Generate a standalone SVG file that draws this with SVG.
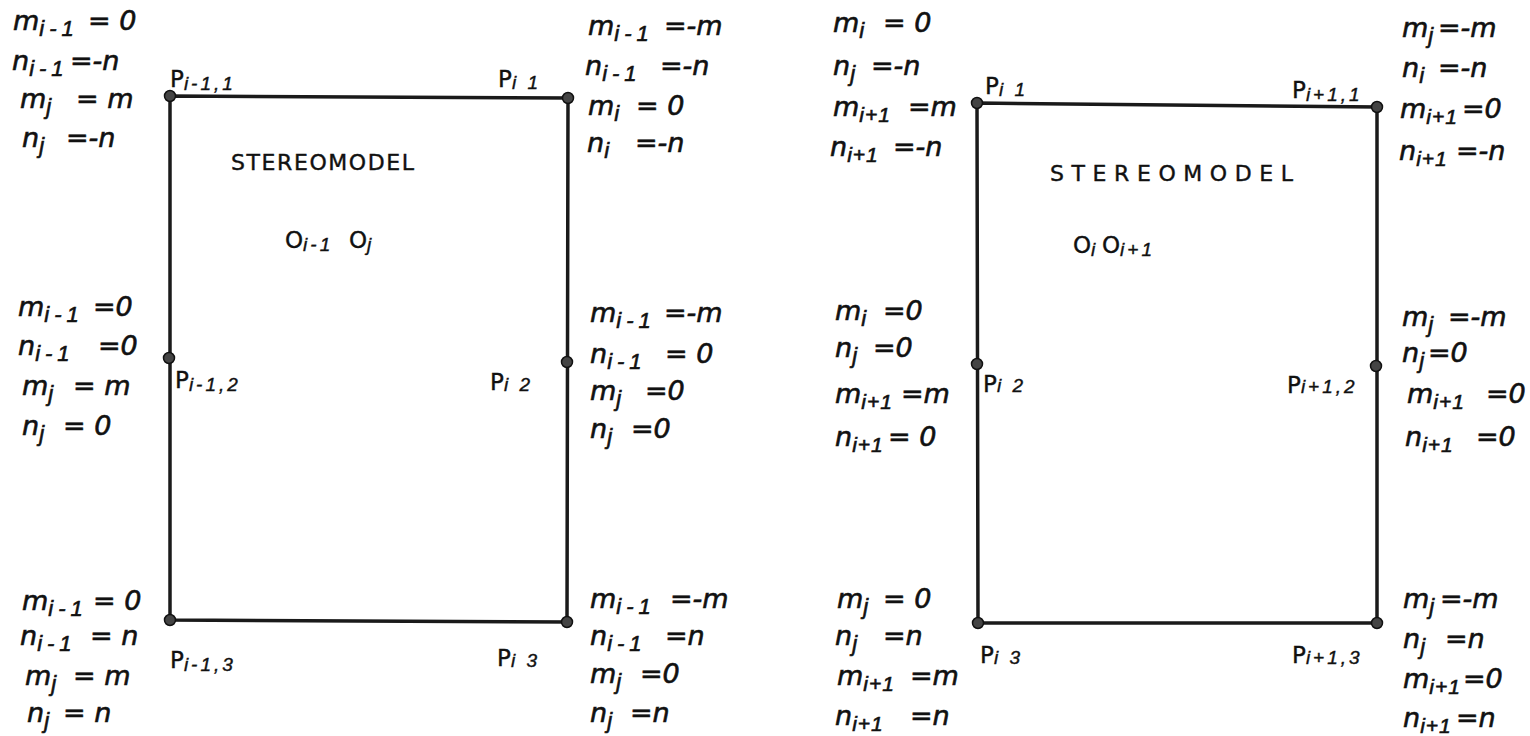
<svg xmlns="http://www.w3.org/2000/svg" width="1530" height="736" viewBox="0 0 1530 736">
<style>
.eq{font-family:"DejaVu Sans",sans-serif;font-style:italic;font-size:27px;fill:#111;stroke:#111;stroke-width:0.6}
.s{font-family:"Liberation Sans",sans-serif;font-size:22px;letter-spacing:5px}
.s2{font-family:"Liberation Sans",sans-serif;font-size:21px;letter-spacing:1px}
.pl{font-family:"DejaVu Sans",sans-serif;font-size:23px;fill:#111;stroke:#111;stroke-width:0.4}
.ps{font-family:"Liberation Sans",sans-serif;font-style:italic;font-size:19px;letter-spacing:3px}
.ti{font-family:"DejaVu Sans",sans-serif;font-size:22px;fill:#111;stroke:#111;stroke-width:0.4}
.edge{stroke:#1a1a1a;stroke-width:3.5;fill:none;stroke-linecap:round}
.dot{fill:#444;stroke:#111;stroke-width:1.5}
</style>
<rect width="1530" height="736" fill="#fff"/>
<g id="connectors">
<path class="edge" d="M170 96 L568 98 L567 622 L170 620 Z"/>
<path class="edge" d="M977 103 L1377 107 L1377 623 L978 623 Z"/>
</g>
<g id="model-left">
<text class="ti" x="231" y="170" textLength="183" lengthAdjust="spacing">STEREOMODEL</text>
<text class="pl" x="285" y="248">O<tspan class="ps" dy="3">i-1</tspan><tspan x="349" dy="-3">O</tspan><tspan class="ps" dy="3">j</tspan></text>
</g>
<g id="model-right">
<text class="ti" x="1050" y="181" textLength="243" lengthAdjust="spacing">STEREOMODEL</text>
<text class="pl" x="1073" y="253">O<tspan class="ps" dy="3">i</tspan><tspan x="1102" dy="-3">O</tspan><tspan class="ps" dy="3">i+1</tspan></text>
</g>
<g id="P_im1_1">
<circle class="dot" cx="170" cy="96" r="5.5"/>
<text class="pl" x="170" y="87">P<tspan class="ps" dy="3">i-1,1</tspan></text>
<text class="eq" x="13" y="30">m<tspan class="s" dy="6">i-1</tspan><tspan x="88" dy="-6">= 0</tspan></text>
<text class="eq" x="12" y="70">n<tspan class="s" dy="6">i-1</tspan><tspan x="70" dy="-6">=-n</tspan></text>
<text class="eq" x="20" y="108">m<tspan class="s" dy="6">j</tspan><tspan x="76" dy="-6">= m</tspan></text>
<text class="eq" x="22" y="147">n<tspan class="s" dy="6">j</tspan><tspan x="66" dy="-6">=-n</tspan></text>
</g>
<g id="P_i_1">
<circle class="dot" cx="568" cy="98" r="5.5"/>
<text class="pl" x="498" y="87">P<tspan class="ps" dy="2">i 1</tspan></text>
<text class="eq" x="588" y="35">m<tspan class="s" dy="6">i-1</tspan><tspan x="664" dy="-6">=-m</tspan></text>
<text class="eq" x="585" y="75">n<tspan class="s" dy="6">i-1</tspan><tspan x="660" dy="-6">=-n</tspan></text>
<text class="eq" x="588" y="115">m<tspan class="s" dy="6">i</tspan><tspan x="636" dy="-6">= 0</tspan></text>
<text class="eq" x="587" y="152">n<tspan class="s" dy="6">i</tspan><tspan x="635" dy="-6">=-n</tspan></text>
</g>
<g id="P_im1_2">
<circle class="dot" cx="169" cy="358" r="5.5"/>
<text class="pl" x="175" y="388">P<tspan class="ps" dy="3">i-1,2</tspan></text>
<text class="eq" x="18" y="316">m<tspan class="s" dy="6">i-1</tspan><tspan x="93" dy="-6">=0</tspan></text>
<text class="eq" x="18" y="355">n<tspan class="s" dy="6">i-1</tspan><tspan x="98" dy="-6">=0</tspan></text>
<text class="eq" x="22" y="395">m<tspan class="s" dy="6">j</tspan><tspan x="73" dy="-6">= m</tspan></text>
<text class="eq" x="22" y="435">n<tspan class="s" dy="6">j</tspan><tspan x="63" dy="-6">= 0</tspan></text>
</g>
<g id="P_i_2">
<circle class="dot" cx="567" cy="362" r="5.5"/>
<text class="pl" x="490" y="390">P<tspan class="ps" dy="1">i 2</tspan></text>
<text class="eq" x="590" y="322">m<tspan class="s" dy="6">i-1</tspan><tspan x="664" dy="-6">=-m</tspan></text>
<text class="eq" x="590" y="363">n<tspan class="s" dy="6">i-1</tspan><tspan x="665" dy="-6">= 0</tspan></text>
<text class="eq" x="590" y="400">m<tspan class="s" dy="6">j</tspan><tspan x="645" dy="-6">=0</tspan></text>
<text class="eq" x="590" y="438">n<tspan class="s" dy="6">j</tspan><tspan x="631" dy="-6">=0</tspan></text>
</g>
<g id="P_im1_3">
<circle class="dot" cx="170" cy="620" r="5.5"/>
<text class="pl" x="170" y="668">P<tspan class="ps" dy="3">i-1,3</tspan></text>
<text class="eq" x="22" y="610">m<tspan class="s" dy="6">i-1</tspan><tspan x="93" dy="-6">= 0</tspan></text>
<text class="eq" x="20" y="645">n<tspan class="s" dy="6">i-1</tspan><tspan x="90" dy="-6">= n</tspan></text>
<text class="eq" x="25" y="685">m<tspan class="s" dy="6">j</tspan><tspan x="73" dy="-6">= m</tspan></text>
<text class="eq" x="27" y="722">n<tspan class="s" dy="6">j</tspan><tspan x="63" dy="-6">= n</tspan></text>
</g>
<g id="P_i_3">
<circle class="dot" cx="567" cy="622" r="5.5"/>
<text class="pl" x="497" y="666">P<tspan class="ps" dy="1">i 3</tspan></text>
<text class="eq" x="590" y="608">m<tspan class="s" dy="6">i-1</tspan><tspan x="670" dy="-6">=-m</tspan></text>
<text class="eq" x="590" y="645">n<tspan class="s" dy="6">i-1</tspan><tspan x="665" dy="-6">=n</tspan></text>
<text class="eq" x="590" y="683">m<tspan class="s" dy="6">j</tspan><tspan x="640" dy="-6">=0</tspan></text>
<text class="eq" x="590" y="722">n<tspan class="s" dy="6">j</tspan><tspan x="630" dy="-6">=n</tspan></text>
</g>
<g id="P_i_1b">
<circle class="dot" cx="977" cy="103" r="5.5"/>
<text class="pl" x="985" y="94">P<tspan class="ps" dy="2">i 1</tspan></text>
<text class="eq" x="833" y="32">m<tspan class="s" dy="6">i</tspan><tspan x="883" dy="-6">= 0</tspan></text>
<text class="eq" x="833" y="75">n<tspan class="s" dy="6">j</tspan><tspan x="871" dy="-6">=-n</tspan></text>
<text class="eq" x="833" y="116">m<tspan class="s2" dy="6">i+1</tspan><tspan x="908" dy="-6">=m</tspan></text>
<text class="eq" x="830" y="156">n<tspan class="s2" dy="6">i+1</tspan><tspan x="893" dy="-6">=-n</tspan></text>
</g>
<g id="P_ip1_1">
<circle class="dot" cx="1377" cy="107" r="5.5"/>
<text class="pl" x="1292" y="98">P<tspan class="ps" dy="3">i+1,1</tspan></text>
<text class="eq" x="1402" y="37">m<tspan class="s" dy="6">j</tspan><tspan x="1438" dy="-6">=-m</tspan></text>
<text class="eq" x="1402" y="77">n<tspan class="s" dy="6">i</tspan><tspan x="1438" dy="-6">=-n</tspan></text>
<text class="eq" x="1400" y="118">m<tspan class="s2" dy="6">i+1</tspan><tspan x="1462" dy="-6">=0</tspan></text>
<text class="eq" x="1399" y="160">n<tspan class="s2" dy="6">i+1</tspan><tspan x="1456" dy="-6">=-n</tspan></text>
</g>
<g id="P_i_2b">
<circle class="dot" cx="977" cy="364" r="5.5"/>
<text class="pl" x="983" y="392">P<tspan class="ps" dy="0">i 2</tspan></text>
<text class="eq" x="835" y="320">m<tspan class="s" dy="6">i</tspan><tspan x="883" dy="-6">=0</tspan></text>
<text class="eq" x="835" y="357">n<tspan class="s" dy="6">j</tspan><tspan x="873" dy="-6">=0</tspan></text>
<text class="eq" x="835" y="403">m<tspan class="s2" dy="6">i+1</tspan><tspan x="901" dy="-6">=m</tspan></text>
<text class="eq" x="835" y="446">n<tspan class="s2" dy="6">i+1</tspan><tspan x="888" dy="-6">= 0</tspan></text>
</g>
<g id="P_ip1_2">
<circle class="dot" cx="1376" cy="366" r="5.5"/>
<text class="pl" x="1287" y="393">P<tspan class="ps" dy="0">i+1,2</tspan></text>
<text class="eq" x="1402" y="326">m<tspan class="s" dy="6">j</tspan><tspan x="1448" dy="-6">=-m</tspan></text>
<text class="eq" x="1402" y="362">n<tspan class="s" dy="6">j</tspan><tspan x="1428" dy="-6">=0</tspan></text>
<text class="eq" x="1407" y="403">m<tspan class="s2" dy="6">i+1</tspan><tspan x="1486" dy="-6">=0</tspan></text>
<text class="eq" x="1405" y="446">n<tspan class="s2" dy="6">i+1</tspan><tspan x="1476" dy="-6">=0</tspan></text>
</g>
<g id="P_i_3b">
<circle class="dot" cx="978" cy="623" r="5.5"/>
<text class="pl" x="980" y="663">P<tspan class="ps" dy="1">i 3</tspan></text>
<text class="eq" x="837" y="608">m<tspan class="s" dy="6">j</tspan><tspan x="883" dy="-6">= 0</tspan></text>
<text class="eq" x="835" y="645">n<tspan class="s" dy="6">j</tspan><tspan x="883" dy="-6">=n</tspan></text>
<text class="eq" x="837" y="685">m<tspan class="s2" dy="6">i+1</tspan><tspan x="910" dy="-6">=m</tspan></text>
<text class="eq" x="835" y="725">n<tspan class="s2" dy="6">i+1</tspan><tspan x="910" dy="-6">=n</tspan></text>
</g>
<g id="P_ip1_3">
<circle class="dot" cx="1377" cy="623" r="5.5"/>
<text class="pl" x="1292" y="663">P<tspan class="ps" dy="1">i+1,3</tspan></text>
<text class="eq" x="1403" y="608">m<tspan class="s" dy="6">j</tspan><tspan x="1440" dy="-6">=-m</tspan></text>
<text class="eq" x="1403" y="648">n<tspan class="s" dy="6">j</tspan><tspan x="1445" dy="-6">=n</tspan></text>
<text class="eq" x="1403" y="688">m<tspan class="s2" dy="6">i+1</tspan><tspan x="1463" dy="-6">=0</tspan></text>
<text class="eq" x="1403" y="727">n<tspan class="s2" dy="6">i+1</tspan><tspan x="1456" dy="-6">=n</tspan></text>
</g>
</svg>
